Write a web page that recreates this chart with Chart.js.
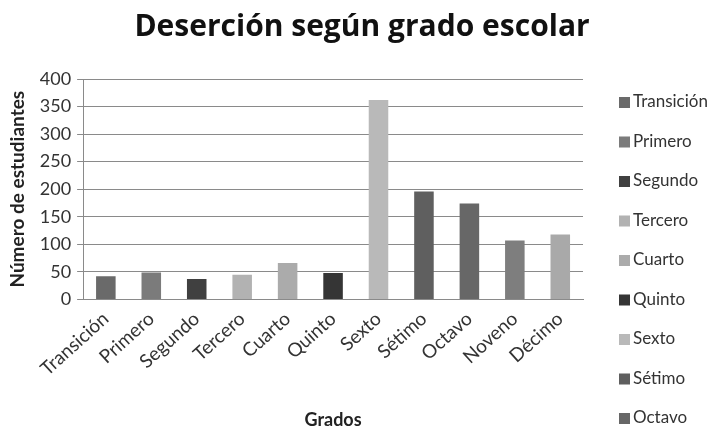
<!DOCTYPE html>
<html>
<head>
<meta charset="utf-8">
<script src="https://cdn.jsdelivr.net/npm/chart.js@4.4.1/dist/chart.umd.min.js"></script>
<style>
  html, body { margin: 0; padding: 0; background: #fff; }
  #wrap { width: 720px; height: 431px; }
</style>
</head>
<body>
<div id="wrap"><canvas id="desercionChart"></canvas></div>
<script>
const grados = ['Transición', 'Primero', 'Segundo', 'Tercero', 'Cuarto', 'Quinto', 'Sexto', 'Sétimo', 'Octavo', 'Noveno', 'Décimo'];
const estudiantes = [42, 49, 37, 45, 66, 48, 362, 196, 174, 107, 118];
const colores = ['#6a6a6a', '#7b7b7b', '#404040', '#b2b2b2', '#ababab', '#353535', '#b9b9b9', '#5f5f5f', '#676767', '#7e7e7e', '#a9a9a9'];
const yTicks = [0, 50, 100, 150, 200, 250, 300, 350, 400];

const FONT = 'Lato, "Open Sans", sans-serif';

// legend on the right, one entry per grade (runs off the bottom like the original)
const sideLegend = {
    id: 'sideLegend',
    afterDraw(chart) {
        const c = chart.ctx;
        const area = chart.chartArea;
        c.save();
        c.font = '17px ' + FONT;
        c.textBaseline = 'middle';
        grados.forEach((g, i) => {
            const y = area.top + 23 + i * 39.5;
            c.fillStyle = colores[i];
            c.fillRect(area.right + 36, y - 5, 11, 11);
            c.fillStyle = '#333';
            c.fillText(g, area.right + 50, y);
        });
        c.restore();
    }
};

window.onload = function() {
    const ctx = document.getElementById('desercionChart').getContext('2d');
    new Chart(ctx, {
        type: 'bar',
        data: {
            labels: grados,
            datasets: [{
                label: 'Número de estudiantes',
                data: estudiantes,
                backgroundColor: colores,
                categoryPercentage: 1,
                barPercentage: 0.43
            }]
        },
        options: {
            responsive: true,
            maintainAspectRatio: false,
            animation: false,
            layout: { padding: { left: 4, right: 0, top: 0, bottom: 0 } },
            plugins: {
                legend: { display: false },
                tooltip: { enabled: false },
                title: {
                    display: true,
                    text: 'Deserción según grado escolar',
                    color: '#111',
                    font: { family: '"Open Sans", sans-serif', size: 30, weight: 'bold' },
                    padding: { top: 9, bottom: 34 }
                }
            },
            scales: {
                x: {
                    grid: { display: false, drawTicks: false },
                    border: { display: true, color: '#8a8a8a', width: 1 },
                    ticks: {
                        color: '#333',
                        font: { family: FONT, size: 19 },
                        minRotation: 42,
                        maxRotation: 42,
                        padding: 8,
                        autoSkip: false
                    },
                    title: {
                        display: true,
                        text: 'Grados',
                        color: '#222',
                        font: { family: FONT, size: 18, weight: 'bold' },
                        padding: { top: 21, bottom: 0 }
                    }
                },
                y: {
                    min: 0,
                    max: 400,
                    afterBuildTicks(axis) { axis.ticks = yTicks.map(v => ({ value: v })); },
                    grid: { color: '#8a8a8a', lineWidth: 1, tickLength: 6 },
                    border: { display: true, color: '#8a8a8a' },
                    ticks: {
                        color: '#333',
                        font: { family: FONT, size: 18 },
                        padding: 6
                    },
                    title: {
                        display: true,
                        text: 'Número de estudiantes',
                        color: '#222',
                        font: { family: FONT, size: 19, weight: 'bold' },
                        padding: { top: 2, bottom: 5 }
                    }
                },
                // empty axis on the right keeps room for the legend
                yRight: {
                    position: 'right',
                    display: true,
                    grid: { display: false, drawTicks: false },
                    border: { display: false },
                    ticks: { display: false },
                    afterFit(axis) { axis.width = 137; }
                }
            }
        },
        plugins: [sideLegend]
    });
};
</script>
</body>
</html>
